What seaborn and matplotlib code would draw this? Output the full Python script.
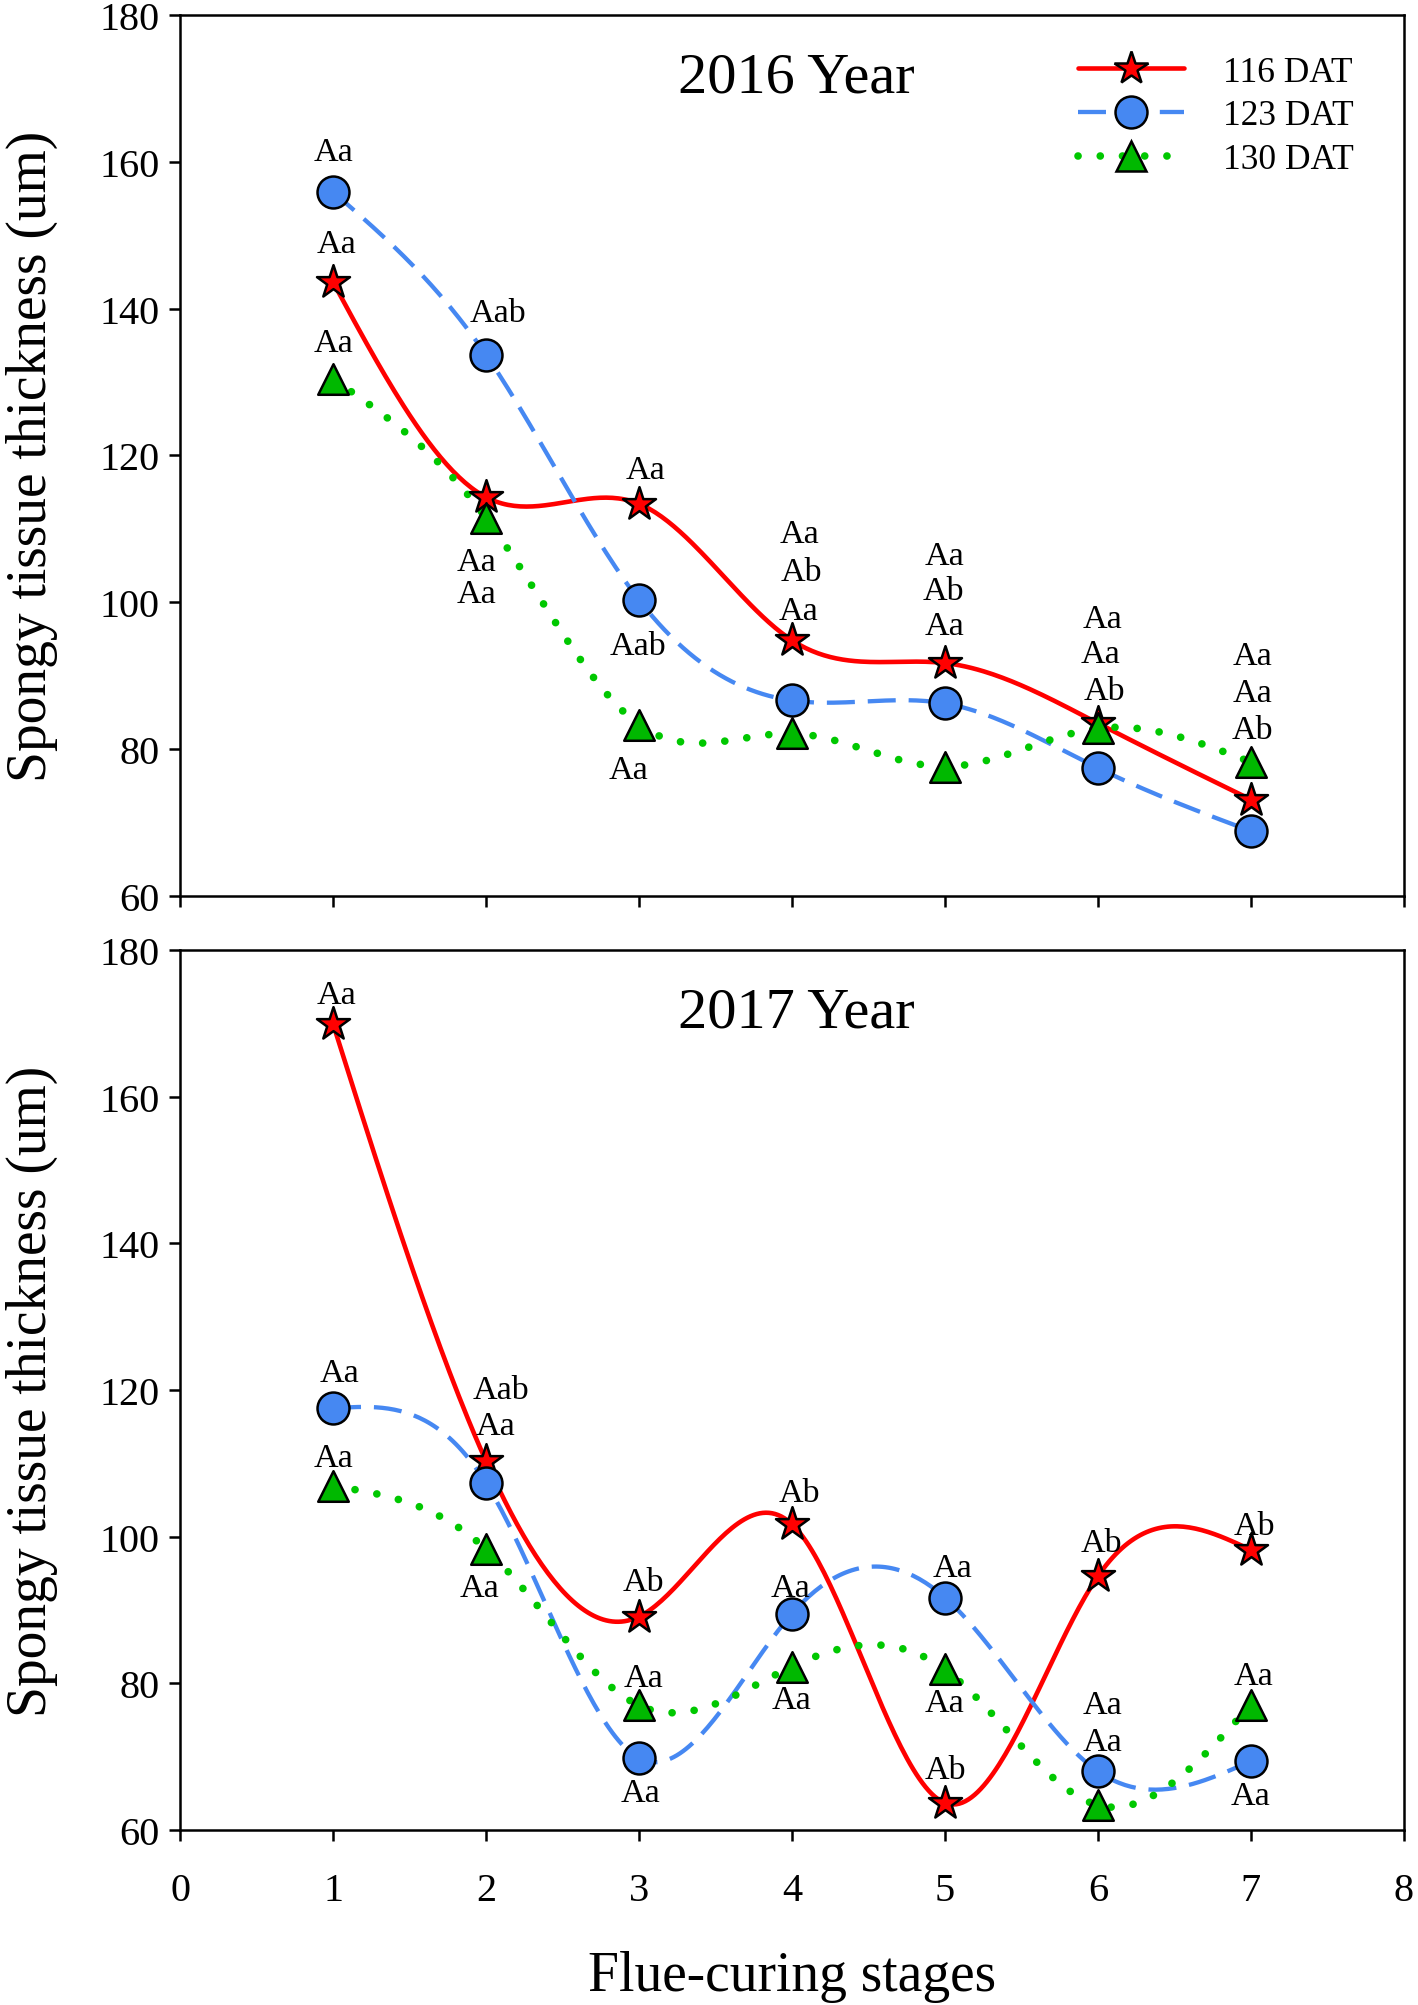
import numpy as np
import pandas as pd
import seaborn as sns
import matplotlib.pyplot as plt
from matplotlib.lines import Line2D

# data
stages = [1, 2, 3, 4, 5, 6, 7]
series_names = ['116 DAT', '123 DAT', '130 DAT']

y2016_116 = [143.6, 114.3, 113.4, 94.8, 91.7, 83.5, 73.1]
y2016_123 = [155.9, 133.7, 100.3, 86.6, 86.2, 77.4, 68.8]
y2016_130 = [130.4, 111.5, 83.3, 82.1, 77.6, 82.8, 78.2]

y2017_116 = [169.9, 110.3, 89.1, 101.7, 63.7, 94.6, 98.2]
y2017_123 = [117.5, 107.3, 69.8, 89.5, 91.7, 68.0, 69.4]
y2017_130 = [106.9, 98.3, 77.0, 82.3, 81.9, 63.4, 77.1]

# significance letters (x, y, text)
labels_2016 = [
    (1.0, 161.4, 'Aa'), (1.02, 148.8, 'Aa'), (1.0, 135.4, 'Aa'),
    (2.08, 139.4, 'Aab'), (1.94, 105.5, 'Aa'), (1.94, 101.1, 'Aa'),
    (3.04, 118.0, 'Aa'), (2.99, 94.0, 'Aab'), (2.93, 77.1, 'Aa'),
    (4.05, 109.3, 'Aa'), (4.06, 104.1, 'Ab'), (4.04, 98.8, 'Aa'),
    (5.0, 106.3, 'Aa'), (4.99, 101.6, 'Ab'), (5.0, 96.8, 'Aa'),
    (6.03, 97.8, 'Aa'), (6.02, 92.9, 'Aa'), (6.04, 87.9, 'Ab'),
    (7.01, 92.7, 'Aa'), (7.01, 87.7, 'Aa'), (7.01, 82.6, 'Ab'),
]
labels_2017 = [
    (1.02, 173.9, 'Aa'), (1.04, 122.3, 'Aa'), (1.0, 110.8, 'Aa'),
    (2.1, 120.0, 'Aab'), (2.06, 115.1, 'Aa'), (1.96, 93.0, 'Aa'),
    (3.03, 93.8, 'Ab'), (3.03, 80.8, 'Aa'), (3.01, 65.1, 'Aa'),
    (4.05, 106.0, 'Ab'), (3.99, 93.0, 'Aa'), (4.0, 77.8, 'Aa'),
    (5.05, 95.8, 'Aa'), (5.0, 68.2, 'Ab'), (5.0, 77.3, 'Aa'),
    (6.02, 99.2, 'Ab'), (6.03, 77.1, 'Aa'), (6.03, 72.0, 'Aa'),
    (7.02, 101.5, 'Ab'), (7.02, 81.1, 'Aa'), (7.0, 64.7, 'Aa'),
]

colors = {'116 DAT': '#FF0000', '123 DAT': '#4688F2', '130 DAT': '#00B800'}
line_colors = {'116 DAT': '#FF0000', '123 DAT': '#4688F2', '130 DAT': '#00C800'}
markers = {'116 DAT': '*', '123 DAT': 'o', '130 DAT': '^'}
msizes = {'116 DAT': 25, '123 DAT': 23, '130 DAT': 22}


def natural_spline(x, y, n=300):
    x = np.asarray(x, float)
    y = np.asarray(y, float)
    k = len(x)
    h = np.diff(x)
    A = np.zeros((k, k))
    b = np.zeros(k)
    A[0, 0] = 1
    A[-1, -1] = 1
    for i in range(1, k - 1):
        A[i, i - 1] = h[i - 1]
        A[i, i] = 2 * (h[i - 1] + h[i])
        A[i, i + 1] = h[i]
        b[i] = 6 * ((y[i + 1] - y[i]) / h[i] - (y[i] - y[i - 1]) / h[i - 1])
    M = np.linalg.solve(A, b)
    xs = np.linspace(x[0], x[-1], n)
    j = np.clip(np.searchsorted(x, xs) - 1, 0, k - 2)
    x0, x1 = x[j], x[j + 1]
    hj = x1 - x0
    ys = (M[j] * (x1 - xs) ** 3 / (6 * hj) + M[j + 1] * (xs - x0) ** 3 / (6 * hj)
          + (y[j] / hj - M[j] * hj / 6) * (x1 - xs)
          + (y[j + 1] / hj - M[j + 1] * hj / 6) * (xs - x0))
    return xs, ys


sns.set_style('ticks')
plt.rcParams['font.family'] = ['Liberation Serif', 'DejaVu Serif']
plt.rcParams['text.color'] = 'black'
plt.rcParams['axes.labelcolor'] = 'black'
plt.rcParams['xtick.color'] = 'black'
plt.rcParams['ytick.color'] = 'black'

fig = plt.figure(figsize=(14.18, 20.06), dpi=100)
ax1 = fig.add_axes([0.127, 0.553, 0.863, 0.439])
ax2 = fig.add_axes([0.127, 0.0872, 0.863, 0.4388])

line_styles = {
    '116 DAT': dict(linestyle='-', linewidth=3.3),
    '123 DAT': dict(linestyle=(0, (6.5, 3.0)), linewidth=3.1),
    '130 DAT': dict(linestyle=(0, (0.01, 2.9)), linewidth=5.5, dash_capstyle='round'),
}

panels = [
    (ax1, [y2016_116, y2016_123, y2016_130], labels_2016, '2016 Year'),
    (ax2, [y2017_116, y2017_123, y2017_130], labels_2017, '2017 Year'),
]

for ax, ys, labels, title in panels:
    for name, vals in zip(series_names, ys):
        xs, ss = natural_spline(stages, vals)
        ax.plot(xs, ss, color=line_colors[name], zorder=2, **line_styles[name])
    for name, vals in zip(series_names, ys):
        df = pd.DataFrame({'stage': stages, 'value': vals})
        sns.scatterplot(data=df, x='stage', y='value', ax=ax, marker=markers[name],
                        s=msizes[name] ** 2, color=colors[name], edgecolor='black',
                        linewidth=1.8, zorder=3, legend=False)
    for x, y, t in labels:
        ax.text(x, y, t, ha='center', va='center', fontsize=24.5, color='black', zorder=4)
    ax.text(4.03, 171.5, title, ha='center', va='center', fontsize=42, color='black')

    ax.set_xlim(0, 8)
    ax.set_ylim(60, 180)
    ax.set_yticks(range(60, 181, 20))
    ax.set_xticks(range(0, 9))
    for s in ax.spines.values():
        s.set_linewidth(1.8)
        s.set_color('black')
    ax.tick_params(direction='out', length=8, width=1.8, labelsize=29, colors='black')
    ax.tick_params(axis='y', pad=6.5)
    ax.tick_params(axis='x', pad=22)
    ax.set_ylabel('Spongy tissue thickness (um)', fontsize=40, labelpad=30, color='black')
    ax.set_xlabel('')

ax1.set_xticklabels([])
ax2.set_xlabel('Flue-curing stages', fontsize=40, labelpad=30, color='black')

handles = []
for name in series_names:
    handles.append(Line2D([0], [0], color=line_colors[name], marker=markers[name],
                          markersize=msizes[name], markerfacecolor=colors[name],
                          markeredgecolor='black', markeredgewidth=1.8,
                          **line_styles[name]))
leg = ax1.legend(handles, series_names, loc='upper right', bbox_to_anchor=(0.985, 0.99),
                 frameon=False, fontsize=25.5, handlelength=3.0, labelspacing=0.3,
                 handletextpad=1.1)
for t in leg.get_texts():
    t.set_color('black')

fig.savefig('out.png', dpi=100)
